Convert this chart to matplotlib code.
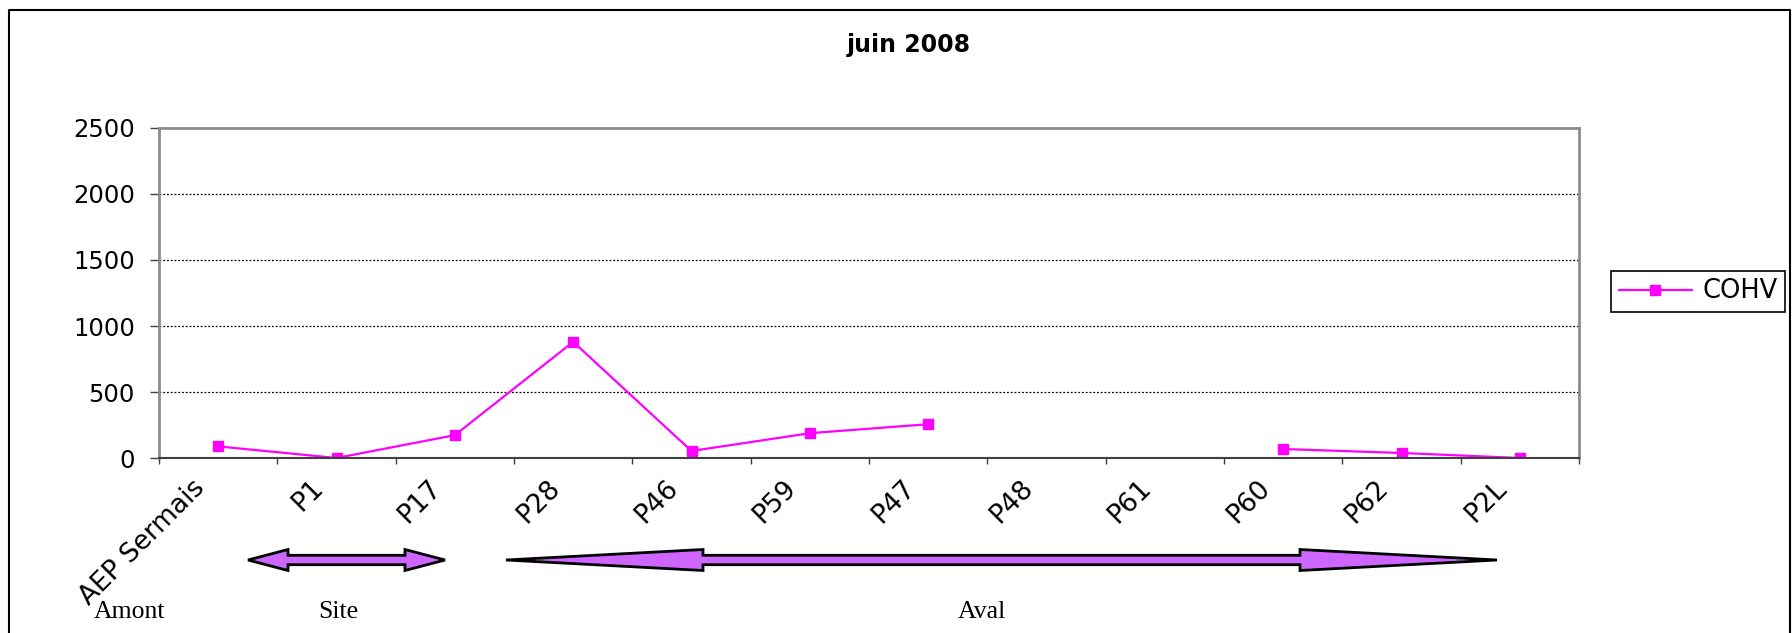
import matplotlib.pyplot as plt
import matplotlib.transforms as mtransforms
from matplotlib.patches import Polygon
import numpy as np

plt.rcParams["font.family"] = "DejaVu Sans"

# Data
#--------------------------------------------------------------------------------------
stations = ["AEP Sermais", "P1", "P17", "P28", "P46", "P59", "P47",
            "P48", "P61", "P60", "P62", "P2L"]
cohv     = [88, 0, 173, 880, 53, 188, 256, np.nan, np.nan, 68, 38, 0]
yticks   = [0, 500, 1000, 1500, 2000, 2500]

title    = "juin 2008"
zones    = ["Amont", "Site", "Aval"]

W, H = 1792, 633
fig = plt.figure(figsize=(W/100, H/100), dpi=100)

# main axes
ax = fig.add_axes([159/W, 1-458/H, (1579-159)/W, (458-128)/H])
x = np.arange(len(stations))
ax.plot(x, cohv, color="#FF00FF", lw=1.6, marker="s", ms=7.5,
        mec="#FF00FF", mfc="#FF00FF", label="COHV")

ax.set_xlim(-0.5, len(stations)-0.5)
ax.set_ylim(0, 2500)
ax.set_yticks(yticks)
ax.tick_params(axis="y", labelsize=17.5, length=6.5, width=1, color="#404040", pad=11)

# category labels between boundary ticks (excel style)
ax.set_xticks(np.arange(len(stations)+1)-0.5)
ax.set_xticklabels([])
ax.tick_params(axis="x", which="major", length=4.5, width=1, color="#404040")
ax.set_xticks(x, minor=True)
ax.set_xticklabels(stations, minor=True, rotation=45, ha="right", va="center",
                   rotation_mode="anchor", fontsize=19)
ax.tick_params(axis="x", which="minor", length=0, pad=19)
offset = mtransforms.ScaledTranslation(-17/100, 0, fig.dpi_scale_trans)
for lab in ax.xaxis.get_minorticklabels():
    lab.set_transform(lab.get_transform() + offset)

for yv in yticks[1:-1]:
    ax.axhline(yv, color="black", lw=0.9, ls=(0, (1.5, 1.5)), zorder=0)

for s in ["top", "right", "left"]:
    ax.spines[s].set_color("#8c8c8c")
    ax.spines[s].set_linewidth(2)
ax.spines["bottom"].set_color("#404040")
ax.spines["bottom"].set_linewidth(1.5)

leg = ax.legend(loc="center left", bbox_to_anchor=(1611/W, 1-291.5/H),
                bbox_transform=fig.transFigure, borderaxespad=0, fontsize=18.5,
                handlelength=2.85, handletextpad=0.4, borderpad=0.3,
                fancybox=False, framealpha=1)
leg.get_frame().set_edgecolor("black")
leg.get_frame().set_linewidth(1.2)

fig.text(909/W, 1-45/H, title, ha="center", va="center",
         fontsize=17, fontweight="bold")

# overlay in pixel coords for frame, arrows and zone names
ov = fig.add_axes([0, 0, 1, 1], zorder=-1)
ov.set_xlim(0, W)
ov.set_ylim(H, 0)
ov.axis("off")
ov.plot([9, 9, 1790, 1790], [H+5, 9.5, 9.5, H+5], color="black", lw=1.5,
        clip_on=False)

def double_arrow(x0, x1, yc, hl, hw=10.5, sw=4.7):
    pts = [(x0, yc), (x0+hl, yc-hw), (x0+hl, yc-sw), (x1-hl, yc-sw),
           (x1-hl, yc-hw), (x1, yc), (x1-hl, yc+hw), (x1-hl, yc+sw),
           (x0+hl, yc+sw), (x0+hl, yc+hw)]
    ov.add_patch(Polygon(pts, closed=True, fc="#CC66FF", ec="black", lw=2,
                         joinstyle="miter"))

double_arrow(248, 445, 560, 40)
double_arrow(506, 1497, 560, 197)

for name, xc in zip(zones, [129.5, 338, 982]):
    ov.text(xc, 612, name, ha="center", va="center", fontsize=18.5,
            family="Liberation Serif")

fig.savefig("out.png", dpi=100)
